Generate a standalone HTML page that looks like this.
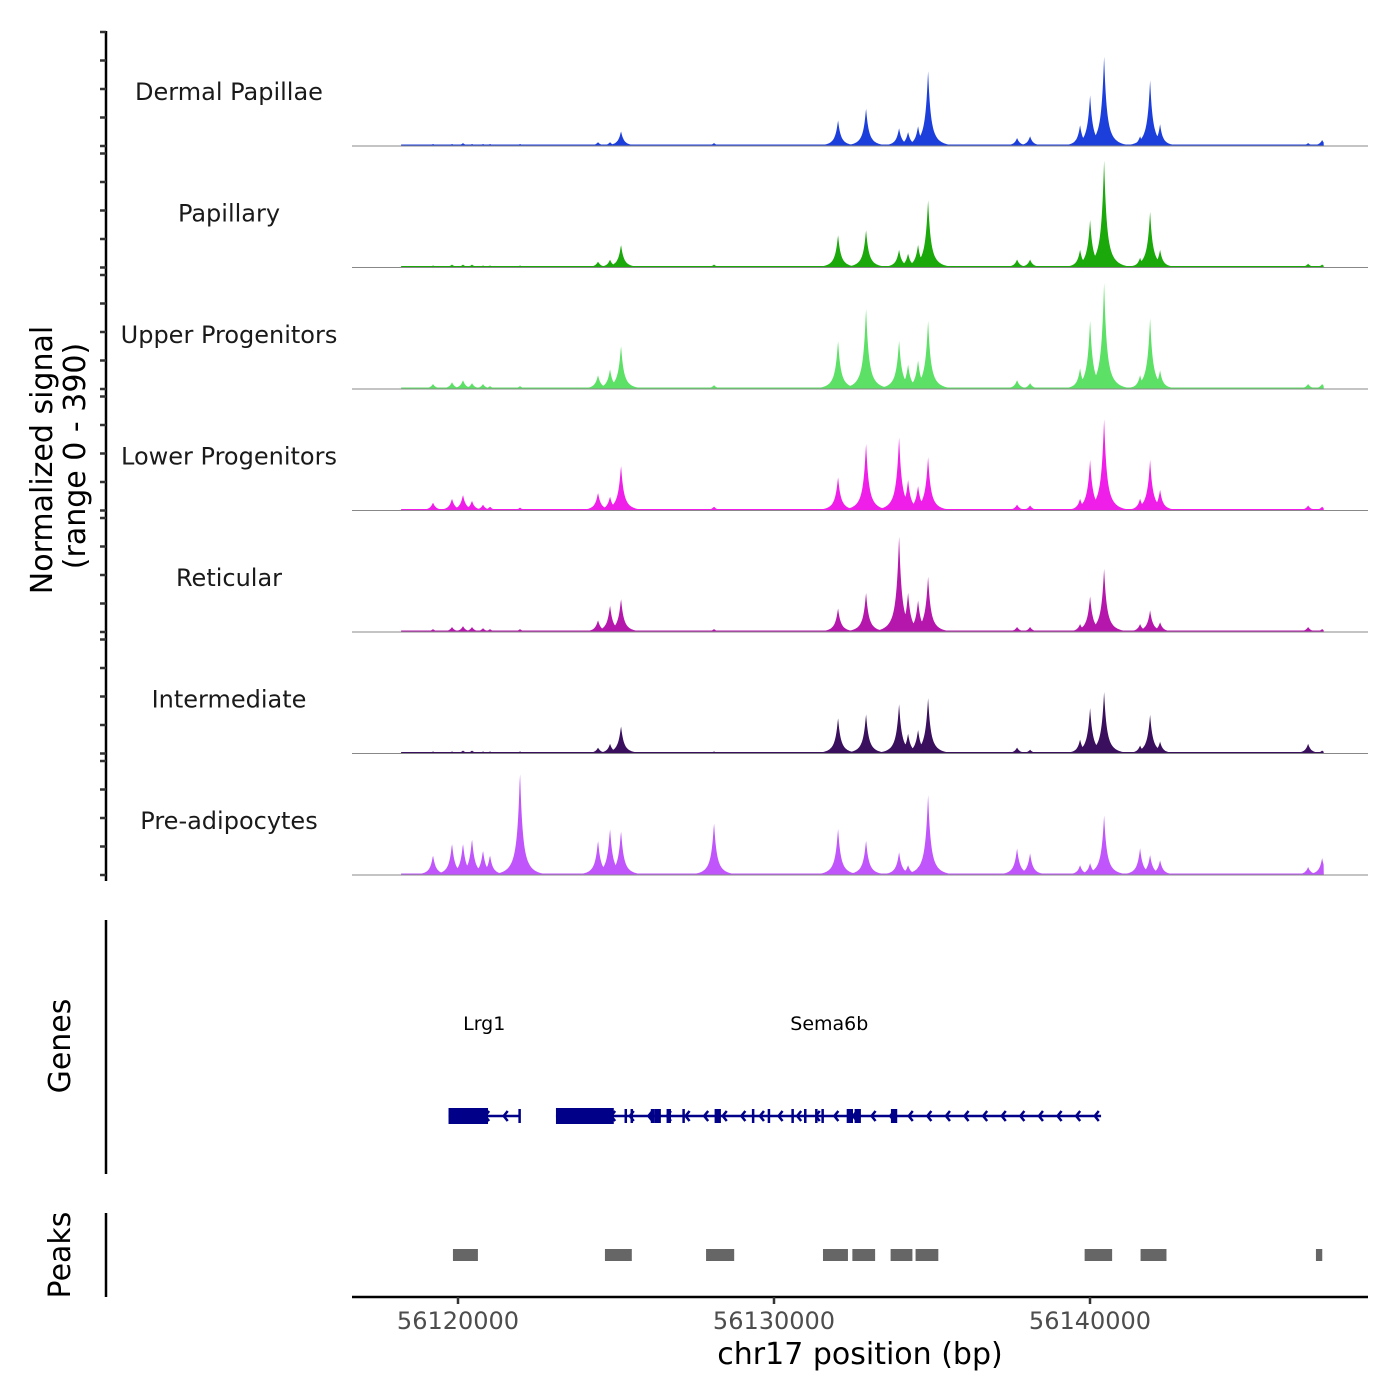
<!DOCTYPE html>
<html><head><meta charset="utf-8"><style>
html,body{margin:0;padding:0;background:#fff;}
svg{display:block;font-family:"DejaVu Sans","Liberation Sans",sans-serif;}
</style></head><body>
<svg id="chart" width="1400" height="1400" viewBox="0 0 1400 1400" xmlns="http://www.w3.org/2000/svg">
<g id="tracks"></g>
<g id="leftaxis"></g>
<text transform="translate(52,460) rotate(-90)" text-anchor="middle" font-size="30" fill="#000">Normalized signal</text>
<text transform="translate(85,456) rotate(-90)" text-anchor="middle" font-size="30" fill="#000">(range 0 - 390)</text>
<line x1="106" y1="920" x2="106" y2="1174" stroke="#000" stroke-width="2.5"/>
<text transform="translate(70,1046) rotate(-90)" text-anchor="middle" font-size="30">Genes</text>
<g id="genes"></g>
<line x1="106" y1="1213" x2="106" y2="1297" stroke="#000" stroke-width="2.5"/>
<text transform="translate(70,1255) rotate(-90)" text-anchor="middle" font-size="30">Peaks</text>
<g id="peaks"></g>
<line x1="352" y1="1297" x2="1368" y2="1297" stroke="#000" stroke-width="2.5"/>
<g id="xaxis"></g>
<text x="860" y="1364" text-anchor="middle" font-size="30">chr17 position (bp)</text>
</svg>
<script>
const NS="http://www.w3.org/2000/svg";
const trackNames=["Dermal Papillae","Papillary","Upper Progenitors","Lower Progenitors","Reticular","Intermediate","Pre-adipocytes"];
const trackColors=["#1c3fdc","#1aa80a","#5ce065","#ef1ee8","#b517ac","#3a0f5e","#bf55fb"];
const peakPositions=[56119209,56119810,56120158,56120443,56120791,56121013,56121962,56124431,56124811,56125159,56128102,56132027,56132913,56133958,56134243,56134559,56134876,56137692,56138104,56139686,56140003,56140446,56141585,56141902,56142218,56146903,56147346];
const sigDermal=[7,7,10,7,7,7,7,13,13,50,10,87,127,60,47,67,253,27,33,70,170,300,33,220,73,10,20];
const sigPapillary=[7,10,10,10,7,7,7,20,27,77,10,110,127,60,47,77,227,27,27,60,160,360,33,187,60,13,10];
const sigUpper=[17,23,30,20,17,10,10,47,67,147,13,163,273,163,83,97,230,30,20,70,230,357,47,237,63,17,17];
const sigLower=[27,40,53,33,20,13,10,60,47,153,13,113,227,247,103,83,180,20,17,40,170,307,40,170,70,17,13];
const sigReticular=[10,17,20,17,13,10,10,40,90,113,10,80,133,323,133,107,187,17,17,27,120,213,27,73,33,17,10];
const sigIntermediate=[7,7,10,10,7,7,7,20,33,93,7,120,133,167,67,80,187,20,13,47,153,207,27,130,40,33,10];
const sigPreadipo=[67,107,107,123,83,67,350,117,157,150,177,157,117,77,33,27,270,90,73,33,40,200,90,67,50,27,57];
const trackSignals=[sigDermal,sigPapillary,sigUpper,sigLower,sigReticular,sigIntermediate,sigPreadipo];
const signalStart=56118200, signalEnd=56147400;
const xTicks=[56120000,56130000,56140000];
const geneNames=["Lrg1","Sema6b"];
const geneStarts=[56119700,56123100];
const geneEnds=[56121950,56140350];
const geneLabelPos=[56120830,56131750];
const exonStarts=[56119700,56123100,56125270,56125460,56126100,56126230,56126600,56127100,56128120,56129300,56129800,56130550,56130950,56131300,56131500,56132300,56132550,56133700];
const exonEnds=[56120950,56124930,56125330,56125520,56126230,56126420,56126740,56127160,56128320,56129350,56129850,56130600,56131000,56131350,56131560,56132500,56132750,56133900];
const thickExon=[1,1,0,0,0,0,0,0,0,0,0,0,0,0,0,0,0,0];
const peakStarts=[56119840,56124650,56127850,56131550,56132480,56133690,56134480,56139830,56141600,56147150];
const peakEnds=[56120630,56125500,56128740,56132340,56133200,56134380,56135200,56140700,56142420,56147350];

const X0=56120000, PX0=458, PXPER=316/10000;
const xs=bp=>PX0+(bp-X0)*PXPER;
const trackTop0=32, trackPitch=121.5, trackH=114, vScale=0.3;

function el(tag,attrs,parent){const e=document.createElementNS(NS,tag);for(const k in attrs)e.setAttribute(k,attrs[k]);parent.appendChild(e);return e;}

const gT=document.getElementById('tracks');
const gA=document.getElementById('leftaxis');
const ax=el('line',{x1:106,y1:31,x2:106,y2:881,stroke:'#000','stroke-width':2.5},gA);


trackNames.forEach((name,k)=>{
  const top=trackTop0+k*trackPitch, base=top+trackH;
  for(let i=0;i<5;i++){
    const t=el('line',{x1:100,x2:106,y1:top+i*trackH/4,y2:top+i*trackH/4,stroke:'#333','stroke-width':2.5},gA);
    
    
  }
  const lab=el('text',{x:229,y:base-46,'text-anchor':'middle','font-size':24,fill:'#1a1a1a'},gT);
  lab.textContent=name;
  
  
  const vals=trackSignals[k];
  const xa=xs(signalStart), xb=xs(signalEnd);
  let d=`M${xa.toFixed(1)},${base}`;
  const pxPos=peakPositions.map(xs);
  for(let x=xa;x<=xb;x+=0.5){
    let h=1.5;
    for(let j=0;j<pxPos.length;j++){
      const dd=Math.abs(x-pxPos[j]);
      if(dd>30)continue;
      const v=vals[j]*vScale*(0.65*Math.exp(-dd/2.2)+0.35*Math.exp(-dd/7));
      if(v>h)h=v;
    }
    d+=`L${x.toFixed(1)},${(base-h).toFixed(1)}`;
  }
  d+=`L${xb.toFixed(1)},${base}Z`;
  const p=el('path',{d,fill:trackColors[k]},gT);
  
  
  const bl=el('line',{x1:352,x2:1368,y1:base,y2:base,stroke:'#888','stroke-width':1},gT);
  
  
});

const gG=document.getElementById('genes');
const gy=1116, gc="#000088";
geneNames.forEach((n,i)=>{
  const ln=el('line',{x1:xs(geneStarts[i]),x2:xs(geneEnds[i]),y1:gy,y2:gy,stroke:gc,'stroke-width':2.5},gG);
  
  
  const t=el('text',{x:xs(geneLabelPos[i]),y:1030,'text-anchor':'middle','font-size':19,fill:'#000'},gG);
  t.textContent=n;
  
  
  const a=xs(geneStarts[i]), b=xs(geneEnds[i]);
  for(let x=a+18;x<b-6;x+=18.6){
    const ar=el('path',{d:`M${x+4},${gy-5}L${x},${gy}L${x+4},${gy+5}`,fill:'none',stroke:gc,'stroke-width':2.5},gG);
    
    
  }
});
const lrgEnd=el('line',{x1:xs(geneEnds[0]),x2:xs(geneEnds[0]),y1:gy-7,y2:gy+7,stroke:gc,'stroke-width':2.5},gG);


exonStarts.forEach((s,i)=>{
  const h=thickExon[i]?16:14;
  const r=el('rect',{x:xs(s),y:gy-h/2,width:Math.max(2.5,xs(exonEnds[i])-xs(s)),height:h,fill:gc},gG);
  
  
});

const gP=document.getElementById('peaks');
peakStarts.forEach((s,i)=>{
  const r=el('rect',{x:xs(s),y:1249,width:xs(peakEnds[i])-xs(s),height:12,fill:'#666'},gP);
  
  
});

const gX=document.getElementById('xaxis');
xTicks.forEach(v=>{
  const x=xs(v);
  const t=el('line',{x1:x,x2:x,y1:1297,y2:1304,stroke:'#333','stroke-width':2.5},gX);
  
  
  const l=el('text',{x:x,y:1329,'text-anchor':'middle','font-size':24,fill:'#4d4d4d'},gX);
  l.textContent=String(v);
  
  
});
</script>
</body></html>
